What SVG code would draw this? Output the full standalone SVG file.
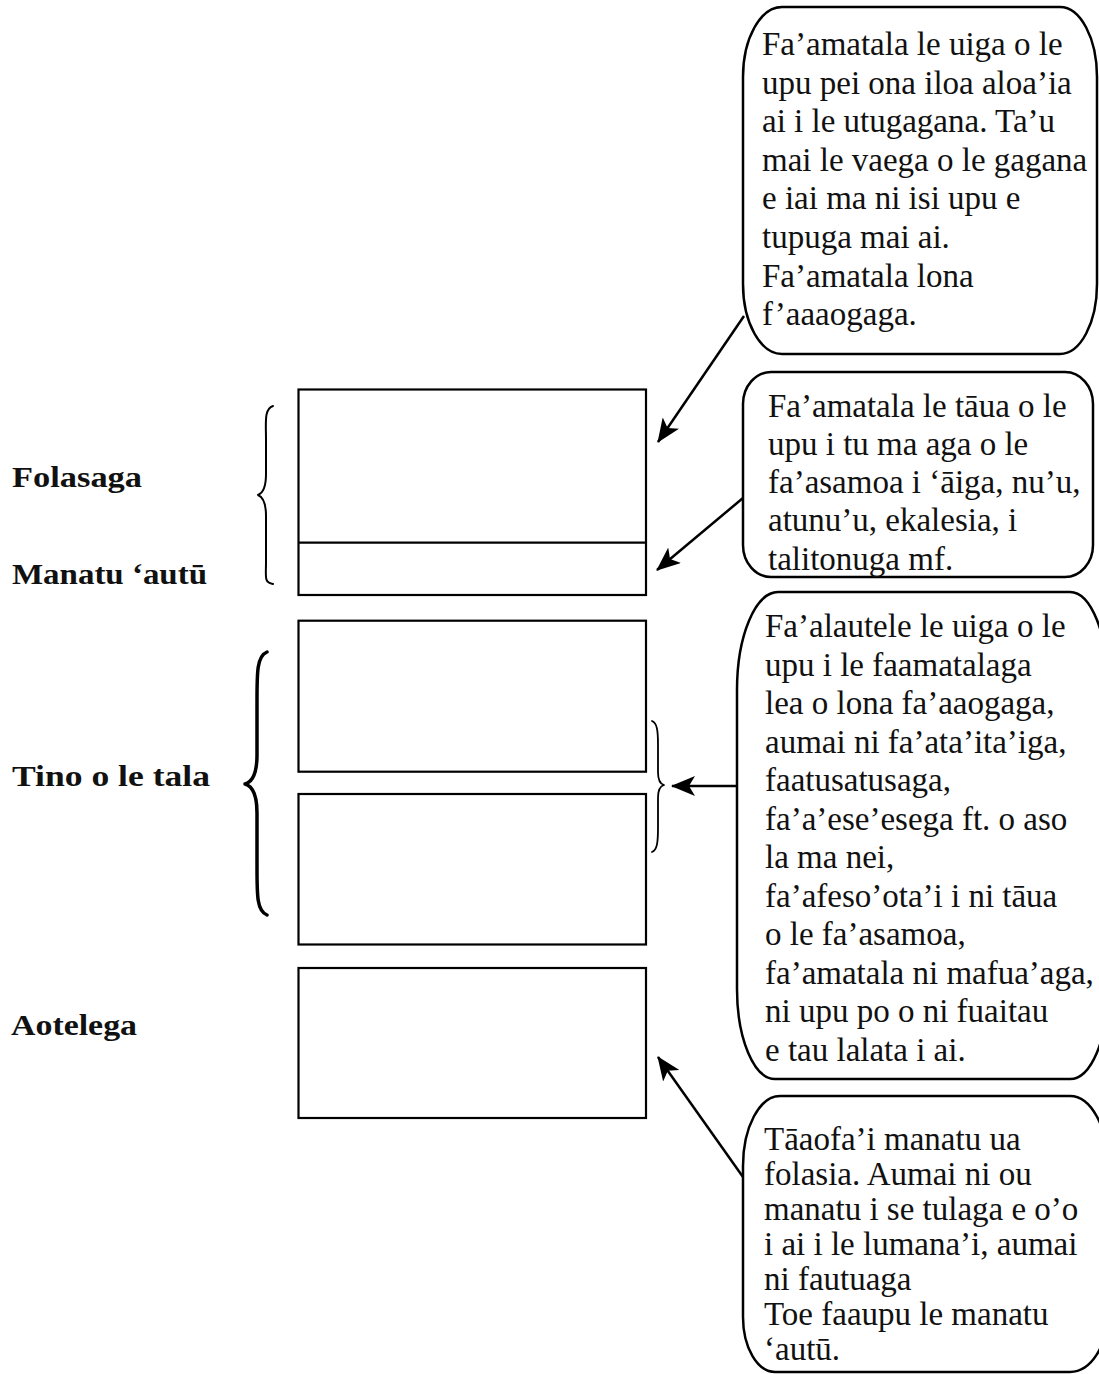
<svg xmlns="http://www.w3.org/2000/svg" width="1099" height="1374" viewBox="0 0 1099 1374">
<style>
.bg{fill:#ffffff}
.box{fill:none;stroke:#000;stroke-width:2.2}
.call{fill:#fff;stroke:#000;stroke-width:2.5}
.txt{font-family:"Liberation Serif","Times New Roman",serif;font-size:33px;fill:#111}
.lbl{font-family:"Liberation Serif","Times New Roman",serif;font-size:29px;font-weight:bold;fill:#111}
.brace{fill:none;stroke:#000;stroke-linecap:round;stroke-linejoin:round}
.conn{fill:none;stroke:#000;stroke-width:2.5;marker-end:url(#arr)}
</style>
<defs>
<marker id="arr" markerUnits="userSpaceOnUse" viewBox="0 0 24 20" refX="23" refY="10" markerWidth="24" markerHeight="20" orient="auto">
<path d="M24,10 L0,0 L6,10 L0,20 Z" fill="#000"/>
</marker>
</defs>
<rect class="bg" x="0" y="0" width="1099" height="1374"/>

<g id="label-folasaga"><text class="lbl" x="12" y="487" textLength="130" lengthAdjust="spacingAndGlyphs">Folasaga</text></g>
<g id="label-manatu"><text class="lbl" x="12" y="584" textLength="195" lengthAdjust="spacingAndGlyphs">Manatu ‘autū</text></g>
<g id="label-tino"><text class="lbl" x="12" y="786" textLength="198" lengthAdjust="spacingAndGlyphs">Tino o le tala</text></g>
<g id="label-aotelega"><text class="lbl" x="11" y="1035" textLength="126" lengthAdjust="spacingAndGlyphs">Aotelega</text></g>

<g id="brace-folasaga"><path class="brace" style="stroke-width:2" d="M273,406 C264,409 266,422 266,440 L266,474 C266,487 263,493 258,495 C263,497 266,503 266,516 L266,562 C266,578 264,582 273,584"/></g>
<g id="brace-tino"><path class="brace" style="stroke-width:3.5" d="M267,652 C257,656 257,672 257,700 L257,755 C257,774 252,782 245,784 C252,786 257,794 257,813 L257,868 C257,896 257,911 267,915"/></g>
<g id="brace-right"><path class="brace" style="stroke-width:1.8" d="M652,721 C657,723 658,730 658,745 L658,772 C658,780 660,784 664,785 C660,786 658,790 658,798 L658,828 C658,843 657,850 652,852"/></g>

<g id="box-folasaga"><rect class="box" x="298.5" y="389.5" width="347.5" height="205.5"/><line class="box" x1="298.5" y1="542.7" x2="646" y2="542.7"/></g>
<g id="box-tino-1"><rect class="box" x="298.5" y="620.7" width="347.5" height="151"/></g>
<g id="box-tino-2"><rect class="box" x="298.5" y="794" width="347.5" height="150.5"/></g>
<g id="box-aotelega"><rect class="box" x="298.5" y="968" width="347.5" height="150"/></g>

<g id="connectors">
<line class="conn" x1="744" y1="316" x2="658" y2="442"/>
<line class="conn" x1="743" y1="498" x2="657" y2="570"/>
<line class="conn" x1="737" y1="786" x2="672" y2="786"/>
<line class="conn" x1="743" y1="1177" x2="658" y2="1057"/>
</g>

<g id="callout-1">
<path class="call" d="M782,7 H1060 A37,70 0 0 1 1097,77 V284 A37,70 0 0 1 1060,354 H782 A39,70 0 0 1 743,284 V77 A39,70 0 0 1 782,7 Z"/>
<text class="txt" x="762" y="55">Fa’amatala le uiga o le</text>
<text class="txt" x="762" y="93.6">upu pei ona iloa aloa’ia</text>
<text class="txt" x="762" y="132.2">ai i le utugagana. Ta’u</text>
<text class="txt" x="762" y="170.8">mai le vaega o le gagana</text>
<text class="txt" x="762" y="209.4">e iai ma ni isi upu e</text>
<text class="txt" x="762" y="248">tupuga mai ai.</text>
<text class="txt" x="762" y="286.6">Fa’amatala lona</text>
<text class="txt" x="762" y="325.2">f’aaaogaga.</text>
</g>

<g id="callout-2">
<path class="call" d="M771,372 H1065 A28,32 0 0 1 1093,404 V545 A28,32 0 0 1 1065,577 H771 A28,32 0 0 1 743,545 V404 A28,32 0 0 1 771,372 Z"/>
<text class="txt" x="768" y="416.5">Fa’amatala le tāua o le</text>
<text class="txt" x="768" y="454.8">upu i tu ma aga o le</text>
<text class="txt" x="768" y="493.1">fa’asamoa i ‘āiga, nu’u,</text>
<text class="txt" x="768" y="531.4">atunu’u, ekalesia, i</text>
<text class="txt" x="768" y="569.7">talitonuga mf.</text>
</g>

<g id="callout-3">
<path class="call" d="M778,592 H1070 A38,95 0 0 1 1108,687 V989 A38,90 0 0 1 1070,1079 H775 A38,90 0 0 1 737,989 V690 A41,98 0 0 1 778,592 Z"/>
<text class="txt" x="765" y="637">Fa’alautele le uiga o le</text>
<text class="txt" x="765" y="675.5">upu i le faamatalaga</text>
<text class="txt" x="765" y="714">lea o lona fa’aaogaga,</text>
<text class="txt" x="765" y="752.5">aumai ni fa’ata’ita’iga,</text>
<text class="txt" x="765" y="791">faatusatusaga,</text>
<text class="txt" x="765" y="829.5">fa’a’ese’esega ft. o aso</text>
<text class="txt" x="765" y="868">la ma nei,</text>
<text class="txt" x="765" y="906.5">fa’afeso’ota’i i ni tāua</text>
<text class="txt" x="765" y="945">o le fa’asamoa,</text>
<text class="txt" x="765" y="983.5">fa’amatala ni mafua’aga,</text>
<text class="txt" x="765" y="1022">ni upu po o ni fuaitau</text>
<text class="txt" x="765" y="1060.5">e tau lalata i ai.</text>
</g>

<g id="callout-4">
<path class="call" d="M780,1096 H1070 A38,70 0 0 1 1108,1166 V1312 A38,60 0 0 1 1070,1372 H775 A32,55 0 0 1 743,1317 V1166 A37,70 0 0 1 780,1096 Z"/>
<text class="txt" x="764" y="1150">Tāaofa’i manatu ua</text>
<text class="txt" x="764" y="1185">folasia. Aumai ni ou</text>
<text class="txt" x="764" y="1220">manatu i se tulaga e o’o</text>
<text class="txt" x="764" y="1255">i ai i le lumana’i, aumai</text>
<text class="txt" x="764" y="1290">ni fautuaga</text>
<text class="txt" x="764" y="1325">Toe faaupu le manatu</text>
<text class="txt" x="764" y="1360">‘autū.</text>
</g>
</svg>
